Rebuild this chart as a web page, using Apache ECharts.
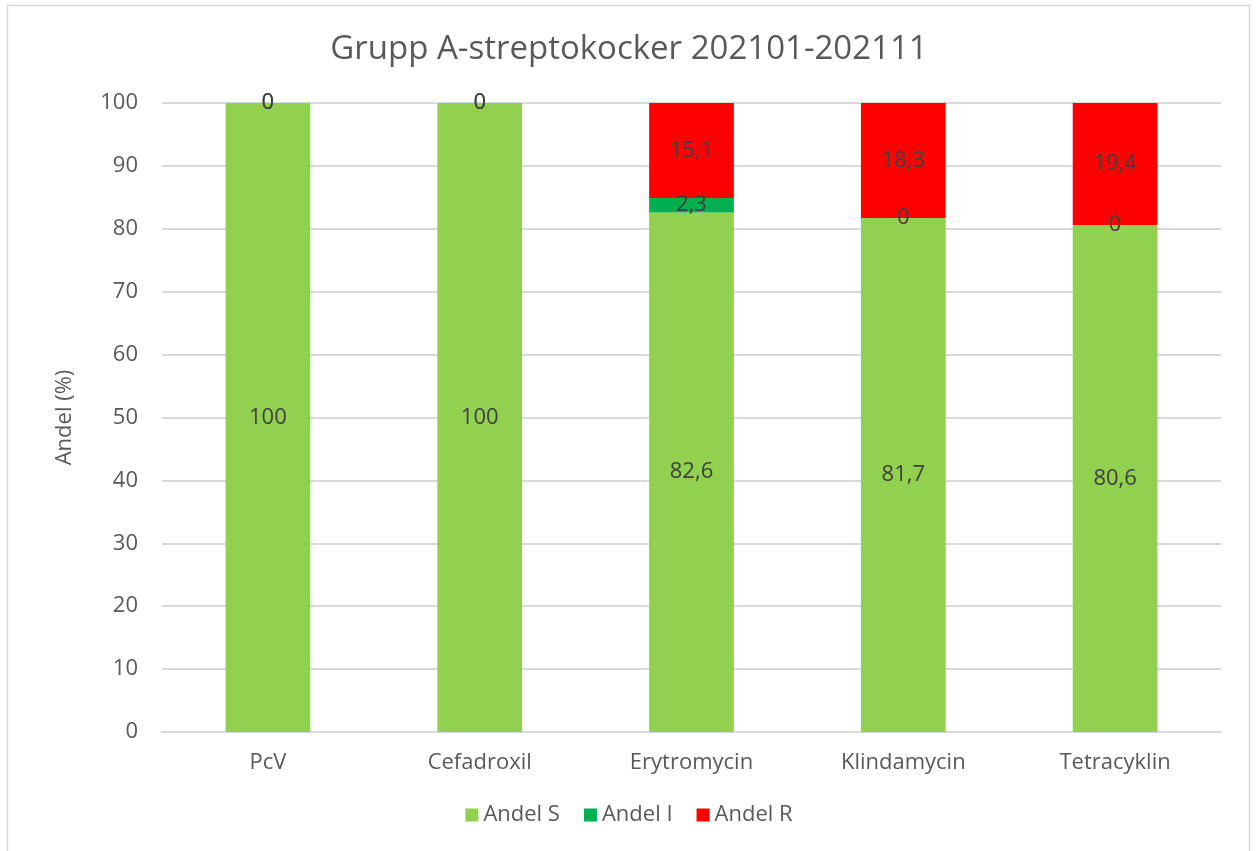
<!DOCTYPE html>
<html>
<head>
<meta charset="utf-8">
<script src="https://cdn.jsdelivr.net/npm/echarts@6/dist/echarts.min.js"></script>
<style>
html, body { margin: 0; padding: 0; background: #fff; }
#main { width: 1258px; height: 851px; }
</style>
</head>
<body>
<div id="main"></div>
<script>
var categories = ["PcV", "Cefadroxil", "Erytromycin", "Klindamycin", "Tetracyklin"];
var andelS = [100, 100, 82.6, 81.7, 80.6];
var andelI = [0, 0, 2.3, 0, 0];
var andelR = [0, 0, 15.1, 18.3, 19.4];

var font = "Open Sans, Noto Sans, sans-serif";

function fmt(p) {
    return String(p.value).replace(".", ",");
}

function serie(name, data, color) {
    return {
        name: name,
        type: "bar",
        stack: "tot",
        barWidth: "40%",
        data: data,
        itemStyle: { color: color },
        label: {
            show: true,
            position: "inside",
            formatter: fmt,
            color: "#404040",
            fontSize: 22,
            fontFamily: font
        }
    };
}

var myChart = echarts.init(document.getElementById("main"));
var option = {
    animation: false,
    title: {
        text: "Grupp A-streptokocker 202101-202111",
        left: "center",
        top: 28,
        textStyle: { color: "#595959", fontSize: 33, fontWeight: "normal", fontFamily: font }
    },
    graphic: [{
        type: "rect",
        shape: { x: 7.5, y: 5.5, width: 1242, height: 860 },
        style: { fill: null, stroke: "#d9d9d9", lineWidth: 1.5 },
        silent: true
    }],
    legend: {
        bottom: 20,
        left: "center",
        itemWidth: 13,
        itemHeight: 13,
        itemGap: 24,
        icon: "rect",
        textStyle: { color: "#595959", fontSize: 22, fontFamily: font },
        data: ["Andel S", "Andel I", "Andel R"]
    },
    grid: { left: 162, right: 37, top: 103, bottom: 119 },
    xAxis: {
        type: "category",
        data: categories,
        axisTick: { show: false },
        axisLine: { lineStyle: { color: "#d9d9d9", width: 2 } },
        axisLabel: { color: "#595959", fontSize: 22, margin: 20, fontFamily: font }
    },
    yAxis: {
        type: "value",
        min: 0,
        max: 100,
        interval: 10,
        name: "Andel (%)",
        nameLocation: "middle",
        nameGap: 86,
        nameTextStyle: { color: "#595959", fontSize: 22, fontFamily: font },
        axisLabel: { color: "#595959", fontSize: 22, margin: 24, fontFamily: font },
        splitLine: { lineStyle: { color: "#d9d9d9", width: 2 } }
    },
    series: [
        serie("Andel S", andelS, "#92D050"),
        serie("Andel I", andelI, "#00B050"),
        serie("Andel R", andelR, "#FF0000")
    ]
};
myChart.setOption(option);
</script>
</body>
</html>
